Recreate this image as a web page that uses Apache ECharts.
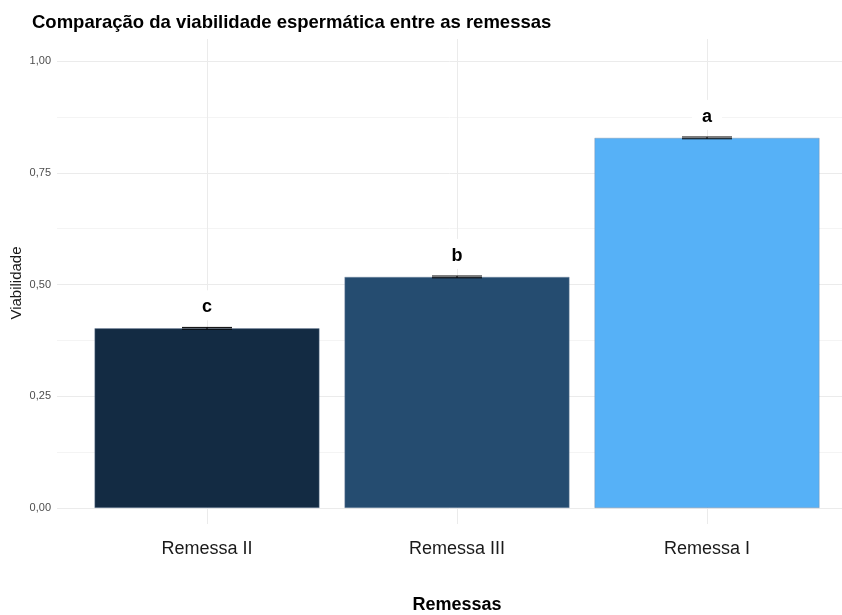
<!DOCTYPE html>
<html>
<head>
<meta charset="utf-8">
<script src="https://cdn.jsdelivr.net/npm/echarts@6/dist/echarts.min.js"></script>
<style>
  html, body { margin: 0; padding: 0; background: #ffffff; }
  #chart { width: 842px; height: 615px; }
</style>
</head>
<body>
<div id="chart"></div>
<script>
// Viabilidade média por remessa, com erro padrão e letras de significância
const categories = ['Remessa II', 'Remessa III', 'Remessa I'];
const viability = [0.402, 0.517, 0.828];
const stdError = [0.002, 0.002, 0.002];
const letters = ['c', 'b', 'a'];
const yTicks = [0, 0.25, 0.5, 0.75, 1];

// continuous fill scale (low -> high)
const barColors = ['#132B43', '#254C70', '#56B1F7'];

const FONT = "'Liberation Sans', Arial, Helvetica, sans-serif";
const chart = echarts.init(document.getElementById('chart'), null, { renderer: 'canvas' });

const fmt = v => v.toFixed(2).replace('.', ',');

// panel geometry in pixels
const P = { left: 57, zeroY: 508, oneY: 61, top: 39, bottom: 524, c0: 207, c2: 707 };
const perUnit = (P.zeroY - P.oneY);
const yMinB = -(P.bottom - P.zeroY) / perUnit;
const yMaxB = 1 + (P.oneY - P.top) / perUnit;

chart.setOption({
  backgroundColor: '#ffffff',
  animation: false,
  title: {
    text: 'Comparação da viabilidade espermática entre as remessas',
    left: 27, top: 8,
    textStyle: { fontFamily: FONT, fontSize: 18.5, fontWeight: 'bold', color: '#000000' }
  },
  grid: [
    // value scale and horizontal grid lines (0 .. 1)
    { left: P.left, right: 0, top: P.oneY, bottom: 615 - P.zeroY, outerBoundsMode: 'none' },
    // bars and vertical grid lines
    { left: P.c0, right: 842 - P.c2, top: P.top, bottom: 615 - P.bottom, outerBoundsMode: 'none' }
  ],
  xAxis: [
    { type: 'value', gridIndex: 0, show: false, min: 0, max: 1 },
    {
      type: 'category', gridIndex: 1, data: categories, boundaryGap: false,
      axisLine: { show: false }, axisTick: { show: false },
      splitLine: { show: true, lineStyle: { color: '#ebebeb', width: 1 } },
      axisLabel: { fontFamily: FONT, fontSize: 18, color: '#1a1a1a', margin: 16 },
      name: 'Remessas', nameLocation: 'middle', nameGap: 72,
      nameTextStyle: { fontFamily: FONT, fontSize: 18, fontWeight: 'bold', color: '#000000' }
    }
  ],
  yAxis: [
    {
      type: 'value', gridIndex: 0, min: 0, max: 1, interval: 0.25,
      axisLine: { show: false }, axisTick: { show: false },
      axisLabel: {
        fontFamily: FONT, fontSize: 11, color: '#4d4d4d', margin: 6,
        formatter: v => yTicks.includes(v) ? fmt(v) : ''
      },
      splitLine: { show: true, lineStyle: { color: '#ebebeb', width: 1 } },
      minorTick: { show: false, splitNumber: 2 },
      minorSplitLine: { show: true, lineStyle: { color: '#f4f4f4', width: 1 } }
    },
    {
      type: 'value', gridIndex: 1, min: yMinB, max: yMaxB, show: false,
      splitLine: { show: false }
    }
  ],
  graphic: [{
    type: 'text',
    rotation: Math.PI / 2,
    x: 17, y: 283,
    style: { text: 'Viabilidade', font: '15px ' + FONT, fill: '#1a1a1a', align: 'center', verticalAlign: 'middle' }
  }],
  series: [
    {
      type: 'bar', xAxisIndex: 1, yAxisIndex: 1,
      barWidth: '90%', clip: false, z: 2,
      data: viability.map((v, i) => ({
        value: v,
        itemStyle: { color: barColors[i], borderColor: 'rgba(120,140,165,0.7)', borderWidth: 0.6 }
      })),
      label: {
        show: true, position: 'top', distance: 8,
        formatter: p => letters[p.dataIndex],
        fontFamily: FONT, fontSize: 18, fontWeight: 'bold', color: '#000000',
        backgroundColor: '#ffffff', padding: [8, 10, 4, 10]
      }
    },
    {
      type: 'custom', xAxisIndex: 1, yAxisIndex: 1, z: 5, clip: false,
      data: viability.map((v, i) => [i, v - stdError[i], v + stdError[i]]),
      renderItem: (params, api) => {
        const i = api.value(0);
        const lo = api.coord([i, api.value(1)]);
        const hi = api.coord([i, api.value(2)]);
        const half = api.size([1, 0])[0] * 0.1;
        const st = { stroke: '#000000', lineWidth: 1 };
        return {
          type: 'group',
          children: [
            { type: 'line', shape: { x1: lo[0] - half, y1: lo[1], x2: lo[0] + half, y2: lo[1] }, style: st },
            { type: 'line', shape: { x1: hi[0] - half, y1: hi[1], x2: hi[0] + half, y2: hi[1] }, style: st },
            { type: 'line', shape: { x1: lo[0], y1: lo[1], x2: hi[0], y2: hi[1] }, style: st }
          ]
        };
      }
    }
  ]
});
</script>
</body>
</html>
